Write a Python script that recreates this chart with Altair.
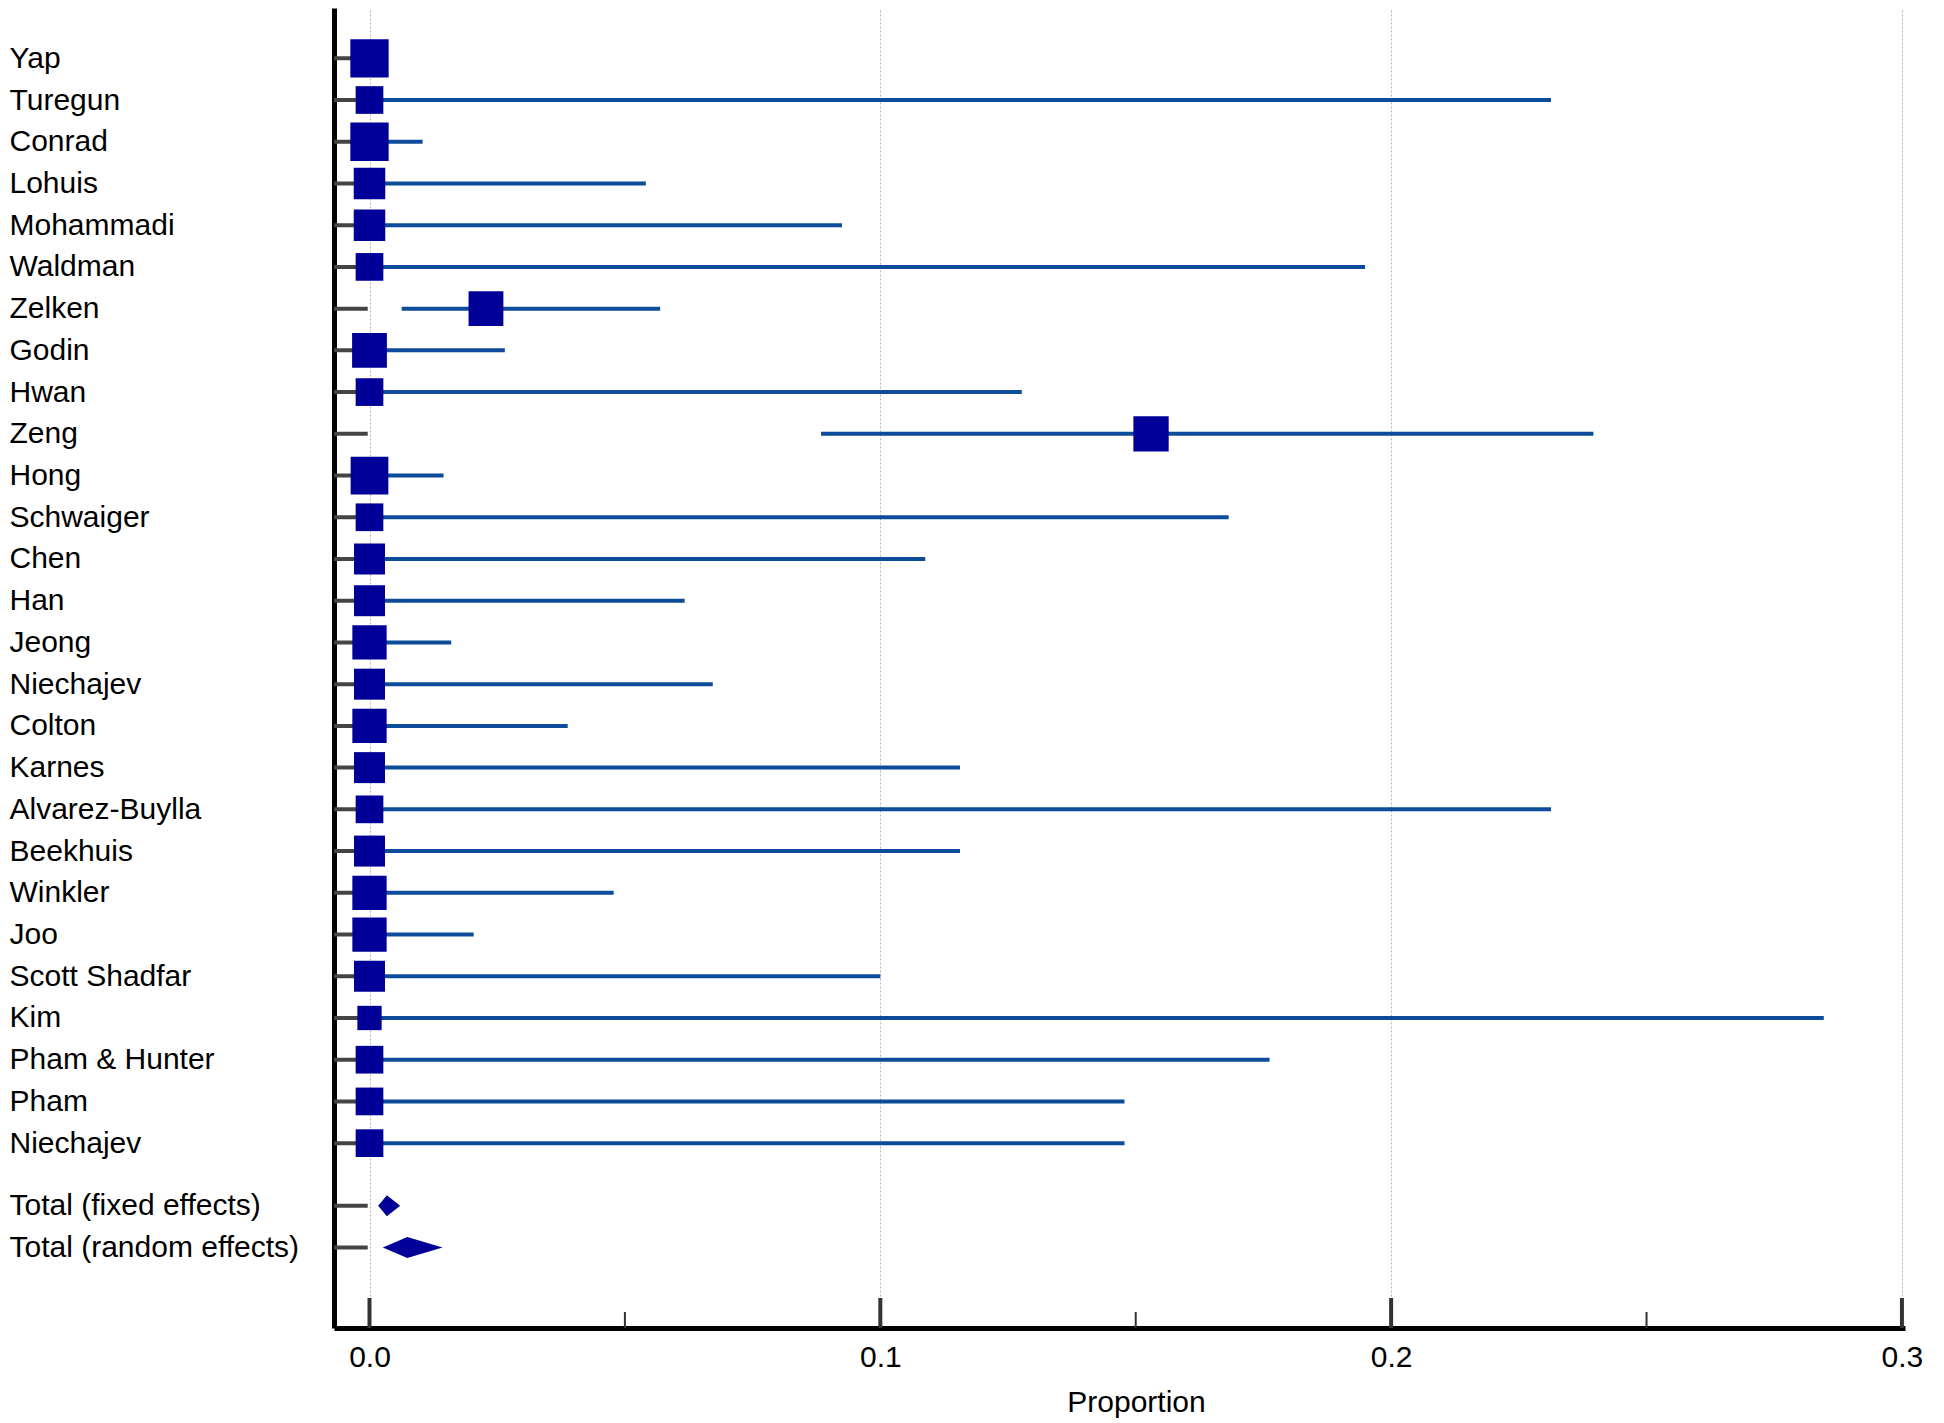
import json
import altair as alt
import pandas as pd

# ---------------- data ----------------
studies = ["Yap", "Turegun", "Conrad", "Lohuis", "Mohammadi", "Waldman", "Zelken",
           "Godin", "Hwan", "Zeng", "Hong", "Schwaiger", "Chen", "Han", "Jeong",
           "Niechajev", "Colton", "Karnes", "Alvarez-Buylla", "Beekhuis", "Winkler",
           "Joo", "Scott Shadfar", "Kim", "Pham & Hunter", "Pham", "Niechajev"]
estimate = [0, 0, 0, 0, 0, 0, 0.0228, 0, 0, 0.153, 0, 0, 0, 0, 0, 0, 0, 0, 0, 0,
            0, 0, 0, 0, 0, 0, 0]
lower = [0, 0, 0, 0, 0, 0, 0.0063, 0, 0, 0.0884, 0, 0, 0, 0, 0, 0, 0, 0, 0, 0,
         0, 0, 0, 0, 0, 0, 0]
upper = [0.003, 0.2313, 0.0104, 0.0541, 0.0925, 0.1949, 0.0569, 0.0265, 0.1277,
         0.2396, 0.0145, 0.1682, 0.1088, 0.0617, 0.0160, 0.0672, 0.0388, 0.1156,
         0.2313, 0.1156, 0.0478, 0.0204, 0.1000, 0.2847, 0.1762, 0.1478, 0.1478]
weight = [5.39, 2.82, 5.39, 3.65, 3.65, 2.82, 4.45, 4.45, 2.82, 4.58, 5.22, 2.82,
          3.53, 3.53, 4.32, 3.53, 4.32, 3.53, 2.82, 3.53, 4.32, 4.32, 3.53, 2.17,
          2.82, 2.82, 2.82]

totals = ["Total (fixed effects)", "Total (random effects)"]
total_est = [0.0034, 0.0074]
total_lower = [0.0017, 0.0026]
total_upper = [0.0060, 0.0143]

major_ticks = [0.0, 0.1, 0.2, 0.3]
minor_ticks = [0.05, 0.15, 0.25]

# ---------------- tables ----------------
n = len(studies)
study_rows = [i + 1 for i in range(n)]
total_rows = [n + 1.5, n + 2.5]

df_st = pd.DataFrame({"row": study_rows, "name": studies, "est": estimate,
                      "lo": lower, "hi": upper, "w": weight})
df_all = pd.DataFrame({"row": study_rows + total_rows})

half = 0.25
dia = []
for name, r, lo, est, hi in zip(totals, total_rows, total_lower, total_est, total_upper):
    for x, k in ((lo, 0), (est, 1), (hi, 0)):
        dia.append({"g": name, "x": x, "y": r - k * half, "y2": r + k * half})
df_dia = pd.DataFrame(dia)
df_major = pd.DataFrame({"t": major_ticks})
df_minor = pd.DataFrame({"t": minor_ticks})

# ---------------- scales / axes ----------------
W, H = 1571, 1320
FONT = "Liberation Sans"
x_dom = [-0.00695, 0.3006]
y_dom = [-0.205, 31.43]
xs = alt.Scale(domain=x_dom, nice=False, zero=False)
ys = alt.Scale(domain=y_dom, nice=False, zero=False, reverse=True)

labels_all = studies + totals
label_expr = (json.dumps(labels_all) +
              f"[datum.value <= {n} ? datum.value - 1 : datum.value - 1.5]")

x_axis = alt.Axis(values=major_ticks, format=".1f", grid=True, gridDash=[2, 2],
                  gridColor="#b4b4b4", gridWidth=1, ticks=False, tickSize=0,
                  domainColor="black", domainWidth=5, labelFont=FONT,
                  labelFontSize=30, labelColor="black", labelPadding=38,
                  labelBaseline="alphabetic", labelFlush=False,
                  title="Proportion", titleFont=FONT, titleFontSize=30,
                  titleFontWeight="normal", titleColor="black", titleX=802,
                  titleY=83.5, titleBaseline="alphabetic", titleAlign="center")
y_axis = alt.Axis(values=study_rows + total_rows, labelExpr=label_expr,
                  labelAlign="left", labelPadding=325, ticks=False, tickSize=0,
                  grid=False, domainColor="black", domainWidth=5, labelFont=FONT,
                  labelFontSize=30, labelColor="black", labelLimit=600,
                  labelOverlap=False, labelFlush=False, labelBaseline="middle",
                  title=None)


def X(field):
    return alt.X(f"{field}:Q", scale=xs, axis=x_axis)


def Y(field):
    return alt.Y(f"{field}:Q", scale=ys, axis=y_axis)


gray = alt.Chart(df_all).mark_rule(color="#444444", strokeWidth=4).encode(
    x=alt.datum(x_dom[0], scale=xs, axis=x_axis) if False else alt.X(datum=x_dom[0], scale=xs, axis=x_axis),
    x2=alt.datum(-0.00035),
    y=Y("row"),
)

ci = alt.Chart(df_st).mark_rule(color="#0D4B9B", strokeWidth=4).encode(
    x=X("lo"), x2="hi:Q", y=Y("row"))

sq = alt.Chart(df_st).mark_square(filled=True, color="#000099", opacity=1).encode(
    x=X("est"), y=Y("row"),
    size=alt.Size("w:Q", scale=alt.Scale(domain=[0, max(weight)],
                                         range=[0, 38.3 ** 2], zero=True),
                  legend=None))

diamond = alt.Chart(df_dia).mark_area(color="#000099", opacity=1).encode(
    x=X("x"), y=Y("y"), y2="y2:Q", detail="g:N")

maj = alt.Chart(df_major).mark_rule(color="#333333", strokeWidth=4).encode(
    x=X("t"), y=alt.value(H), y2=alt.value(H - 30))
mnr = alt.Chart(df_minor).mark_rule(color="#333333", strokeWidth=2).encode(
    x=X("t"), y=alt.value(H), y2=alt.value(H - 16))

chart = alt.layer(gray, ci, sq, diamond, maj, mnr).properties(
    width=W, height=H,
    padding={"left": 326, "top": 0, "right": 30, "bottom": 90},
    autosize=alt.AutoSizeParams(type="none"),
    background="white",
).configure_view(stroke=None)

chart.save("out.html", embed_options={"renderer": "svg", "actions": False})
